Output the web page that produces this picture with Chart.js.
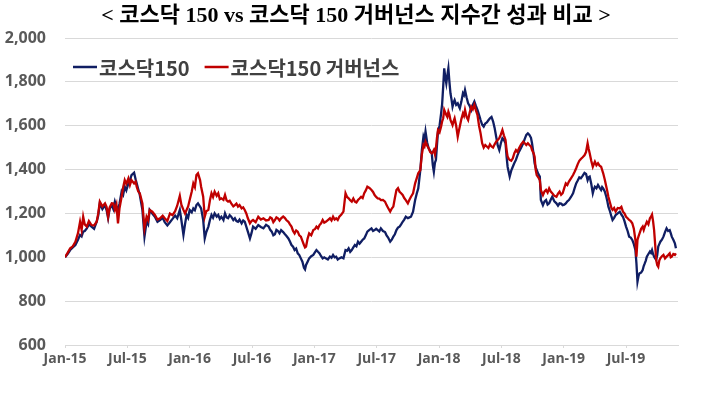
<!DOCTYPE html>
<html>
<head>
<meta charset="utf-8">
<script src="https://cdn.jsdelivr.net/npm/chart.js@4.4.1/dist/chart.umd.min.js"></script>
<style>html,body{margin:0;padding:0;background:#fff}</style>
</head>
<body>
<canvas id="c" width="702" height="398"></canvas>
<script>
const titleText = '< 코스닥 150 vs 코스닥 150 거버넌스 지수간 성과 비교 >';
const seriesNames = ['코스닥150', '코스닥150 거버넌스'];
const tickMonths = [0, 6, 12, 18, 24, 30, 36, 42, 48, 54];
const tickLabels = ['Jan-15', 'Jul-15', 'Jan-16', 'Jul-16', 'Jan-17', 'Jul-17', 'Jan-18', 'Jul-18', 'Jan-19', 'Jul-19'];

// months since Jan 2015
const months = [
  0,0.25,0.5,0.75,1,1.25,1.45,1.6,1.75,1.9,
  2.1,2.3,2.55,2.8,3.05,3.2,3.35,3.6,3.85,4.0,
  4.15,4.3,4.5,4.65,4.8,4.95,5.1,5.25,5.45,5.6,
  5.75,5.9,6.1,6.25,6.4,6.65,6.8,6.9,7.05,7.2,
  7.45,7.65,7.85,8.0,8.15,8.4,8.65,8.9,9.15,9.4,
  9.6,9.85,10.1,10.35,10.6,10.8,11.05,11.2,11.4,11.55,
  11.7,11.85,12,12.2,12.35,12.5,12.65,12.8,13,13.1,
  13.3,13.45,13.6,13.8,13.95,14.1,14.25,14.4,14.6,14.75,
  14.9,15.05,15.25,15.4,15.55,15.7,15.85,16,16.2,16.35,
  16.5,16.65,16.8,17,17.15,17.3,17.45,17.6,17.8,17.95,
  18.1,18.35,18.6,18.85,19.1,19.35,19.6,19.75,19.9,20.05,
  20.2,20.35,20.5,20.65,20.8,21,21.15,21.3,21.5,21.65,
  21.8,21.95,22.1,22.25,22.4,22.55,22.7,22.85,23,23.1,
  23.2,23.35,23.5,23.7,23.9,24.05,24.2,24.35,24.5,24.65,
  24.8,24.95,25.1,25.3,25.5,25.65,25.8,25.95,26.1,26.25,
  26.4,26.6,26.8,27,27.15,27.3,27.45,27.6,27.75,27.9,
  28.05,28.2,28.35,28.5,28.65,28.8,28.95,29.1,29.3,29.5,
  29.65,29.8,29.95,30.1,30.25,30.4,30.6,30.8,30.95,31.1,
  31.3,31.45,31.6,31.75,31.9,32.05,32.2,32.35,32.5,32.65,
  32.8,33,33.15,33.3,33.5,33.7,33.85,34,34.2,34.35,
  34.5,34.6,34.7,34.85,35,35.15,35.3,35.4,35.5,35.6,
  35.7,35.8,35.9,36.05,36.2,36.3,36.4,36.5,36.6,36.7,
  36.8,36.9,37,37.1,37.2,37.3,37.4,37.5,37.65,37.8,
  37.9,38,38.15,38.3,38.4,38.5,38.65,38.8,38.95,39.1,
  39.25,39.4,39.55,39.7,39.85,40,40.15,40.3,40.45,40.6,
  40.75,40.9,41.05,41.2,41.35,41.5,41.65,41.8,41.95,42.1,
  42.25,42.4,42.5,42.6,42.7,42.8,42.95,43.1,43.25,43.4,
  43.55,43.7,43.9,44.1,44.25,44.4,44.55,44.7,44.85,44.95,
  45.1,45.2,45.3,45.4,45.55,45.7,45.8,45.9,46,46.15,
  46.3,46.45,46.6,46.75,46.9,47.1,47.3,47.45,47.6,47.75,
  47.9,48.05,48.2,48.35,48.5,48.7,48.9,49.05,49.2,49.35,
  49.5,49.65,49.8,50,50.15,50.3,50.4,50.5,50.65,50.8,
  50.9,51,51.15,51.3,51.45,51.6,51.7,51.8,51.95,52.1,
  52.2,52.3,52.45,52.6,52.7,52.85,53,53.2,53.4,53.55,
  53.7,53.85,54,54.15,54.3,54.45,54.6,54.75,54.9,55,
  55.1,55.2,55.3,55.45,55.6,55.7,55.8,55.9,56,56.15,
  56.3,56.4,56.5,56.6,56.7,56.8,56.9,57,57.1,57.2,
  57.3,57.45,57.6,57.75,57.9,58.05,58.2,58.3,58.4,58.55,
  58.7,58.8
];

const kosdaq150 = [
  1000,1015,1033,1045,1056,1080,1102,1095,1117,1120,
  1132,1150,1140,1130,1162,1190,1246,1220,1238,1215,
  1178,1222,1238,1220,1254,1230,1216,1245,1299,1285,
  1322,1305,1337,1350,1375,1386,1355,1337,1310,1284,
  1216,1094,1162,1150,1216,1200,1185,1162,1170,1180,
  1160,1145,1160,1175,1190,1178,1216,1170,1102,1150,
  1193,1180,1216,1205,1223,1215,1238,1246,1231,1223,
  1170,1086,1115,1140,1170,1193,1180,1200,1185,1193,
  1175,1185,1170,1200,1182,1178,1192,1185,1170,1178,
  1165,1162,1172,1155,1168,1162,1140,1117,1086,1110,
  1140,1130,1147,1138,1132,1148,1140,1125,1117,1100,
  1105,1125,1120,1110,1124,1115,1106,1098,1086,1072,
  1056,1048,1033,1040,1018,1010,995,980,952,945,
  965,980,995,1005,1011,1022,1033,1025,1018,1005,
  995,1000,995,990,1003,998,1011,1000,1003,990,
  995,1000,995,1033,1030,1041,1025,1033,1045,1056,
  1050,1071,1062,1071,1080,1086,1100,1117,1125,1132,
  1120,1124,1130,1124,1118,1132,1120,1115,1100,1090,
  1071,1080,1094,1105,1124,1135,1140,1150,1162,1172,
  1185,1178,1182,1185,1208,1261,1290,1314,1398,1490,
  1550,1535,1573,1525,1497,1485,1474,1420,1390,1430,
  1444,1510,1573,1600,1656,1700,1778,1862,1820,1793,
  1830,1862,1800,1748,1720,1687,1705,1717,1695,1702,
  1690,1679,1710,1748,1740,1763,1730,1702,1690,1672,
  1695,1710,1690,1672,1650,1626,1605,1596,1610,1615,
  1625,1634,1640,1620,1590,1550,1510,1489,1520,1543,
  1535,1520,1460,1413,1390,1368,1395,1413,1430,1444,
  1465,1482,1500,1520,1540,1558,1565,1558,1545,1520,
  1470,1429,1410,1398,1380,1368,1261,1250,1238,1255,
  1261,1240,1246,1262,1276,1255,1246,1235,1246,1245,
  1238,1240,1246,1255,1261,1275,1292,1315,1337,1350,
  1364,1360,1370,1385,1380,1352,1365,1368,1335,1292,
  1310,1322,1315,1330,1318,1307,1320,1314,1300,1276,
  1255,1231,1210,1185,1170,1180,1193,1200,1208,1195,
  1185,1165,1140,1120,1094,1090,1079,1060,1033,972,
  889,915,927,930,942,960,972,985,1003,1015,
  1026,1020,1033,1015,1003,995,988,1010,1049,1060,
  1071,1080,1094,1115,1132,1120,1124,1110,1094,1080,
  1064,1041
];

const governance = [
  1000,1020,1041,1050,1071,1110,1162,1125,1185,1150,
  1140,1165,1147,1145,1162,1200,1254,1232,1246,1230,
  1185,1228,1246,1245,1216,1240,1155,1225,1276,1320,
  1352,1335,1360,1330,1352,1337,1345,1322,1300,1292,
  1246,1132,1185,1170,1216,1208,1193,1172,1178,1190,
  1178,1165,1200,1192,1210,1235,1280,1240,1216,1200,
  1216,1232,1261,1300,1337,1320,1375,1383,1352,1322,
  1276,1185,1210,1216,1260,1292,1275,1299,1280,1292,
  1265,1269,1262,1284,1260,1254,1258,1246,1232,1238,
  1245,1231,1238,1223,1228,1216,1200,1178,1155,1165,
  1170,1160,1185,1172,1178,1168,1170,1182,1178,1160,
  1170,1182,1178,1168,1178,1186,1180,1170,1162,1150,
  1140,1120,1109,1122,1117,1100,1094,1075,1056,1045,
  1049,1085,1109,1100,1124,1128,1140,1132,1147,1155,
  1170,1158,1162,1170,1178,1168,1185,1172,1178,1170,
  1185,1195,1208,1292,1275,1269,1260,1254,1268,1254,
  1250,1261,1268,1276,1270,1292,1305,1322,1316,1307,
  1298,1284,1275,1269,1268,1261,1262,1254,1238,1225,
  1208,1222,1231,1270,1307,1315,1299,1292,1284,1270,
  1261,1246,1262,1276,1292,1337,1360,1383,1398,1470,
  1512,1505,1527,1510,1497,1480,1474,1480,1489,1470,
  1497,1545,1580,1570,1596,1620,1634,1672,1660,1649,
  1640,1664,1650,1626,1615,1603,1620,1634,1600,1550,
  1575,1596,1630,1656,1645,1672,1640,1626,1660,1687,
  1675,1695,1670,1649,1600,1565,1520,1500,1512,1505,
  1498,1515,1505,1500,1515,1527,1535,1543,1560,1580,
  1555,1535,1490,1459,1450,1444,1440,1451,1475,1489,
  1480,1497,1515,1527,1520,1512,1520,1512,1505,1489,
  1475,1459,1400,1375,1365,1352,1307,1295,1284,1300,
  1307,1295,1314,1300,1292,1280,1276,1290,1299,1285,
  1292,1315,1337,1330,1345,1360,1375,1390,1406,1425,
  1440,1448,1455,1465,1480,1520,1495,1474,1440,1413,
  1425,1436,1420,1429,1418,1413,1398,1383,1355,1322,
  1300,1276,1250,1223,1216,1225,1208,1225,1223,1230,
  1208,1200,1185,1178,1170,1165,1155,1130,1079,1003,
  1079,1095,1109,1130,1140,1125,1140,1150,1162,1150,
  1178,1185,1195,1165,1124,1060,988,965,957,985,
  995,1005,1011,995,1003,1010,1018,1000,1003,1015,
  1011,1018
];

const toPoints = vals => months.map((m, i) => ({ x: m, y: vals[i] }));

const titlePlugin = {
  id: 'titleText',
  afterDraw(chart) {
    const ctx = chart.ctx;
    ctx.save();
    ctx.font = 'bold 22px "Liberation Serif", "Noto Sans CJK KR", serif';
    ctx.fillStyle = '#000000';
    ctx.textAlign = 'center';
    ctx.textBaseline = 'middle';
    ctx.fillText(titleText, 356, 16);
    ctx.restore();
  }
};

const legendPlugin = {
  id: 'insideLegend',
  afterDraw(chart) {
    const ctx = chart.ctx;
    ctx.save();
    ctx.font = 'bold 20px "Noto Sans CJK KR", sans-serif';
    ctx.textBaseline = 'middle';
    let x = 73;
    const y = 67;
    chart.data.datasets.forEach(ds => {
      ctx.strokeStyle = ds.borderColor;
      ctx.lineWidth = 2.5;
      ctx.beginPath();
      ctx.moveTo(x, y);
      ctx.lineTo(x + 24, y);
      ctx.stroke();
      ctx.fillStyle = '#404040';
      ctx.fillText(ds.label, x + 26, y + 1);
      x += 26 + ctx.measureText(ds.label).width + 15;
    });
    ctx.restore();
  }
};

new Chart(document.getElementById('c'), {
  type: 'line',
  data: {
    datasets: [
      { label: seriesNames[0], data: toPoints(kosdaq150), borderColor: '#101E63', backgroundColor: '#101E63', borderWidth: 2.3, pointRadius: 0, tension: 0, order: 1 },
      { label: seriesNames[1], data: toPoints(governance), borderColor: '#C00000', backgroundColor: '#C00000', borderWidth: 2.3, pointRadius: 0, tension: 0, order: 0 }
    ]
  },
  options: {
    responsive: false,
    animation: false,
    layout: { padding: { top: 38, right: 24, bottom: 23, left: 0 } },
    plugins: { legend: { display: false }, title: { display: false }, tooltip: { enabled: false } },
    scales: {
      x: {
        type: 'linear',
        min: 0,
        max: 59,
        afterBuildTicks: axis => { axis.ticks = tickMonths.map(v => ({ value: v })); },
        afterFit: scale => { scale.height = 30; },
        ticks: {
          autoSkip: false,
          maxRotation: 0,
          padding: 3,
          color: '#595959',
          font: { family: '"Open Sans", sans-serif', size: 14, weight: 'bold' },
          callback: (value, index) => tickLabels[index]
        },
        grid: { drawOnChartArea: false, drawTicks: true, tickLength: 3, color: '#D9D9D9' },
        border: { display: true, color: '#D9D9D9' }
      },
      y: {
        min: 600,
        max: 2000,
        afterFit: scale => { scale.width = 65; },
        ticks: {
          stepSize: 200,
          padding: 19,
          color: '#595959',
          font: { family: '"Open Sans", sans-serif', size: 16, weight: 'bold' },
          callback: v => v.toLocaleString('en-US')
        },
        grid: { color: '#D9D9D9', drawTicks: false },
        border: { display: false }
      }
    }
  },
  plugins: [titlePlugin, legendPlugin]
});
</script>
</body>
</html>
